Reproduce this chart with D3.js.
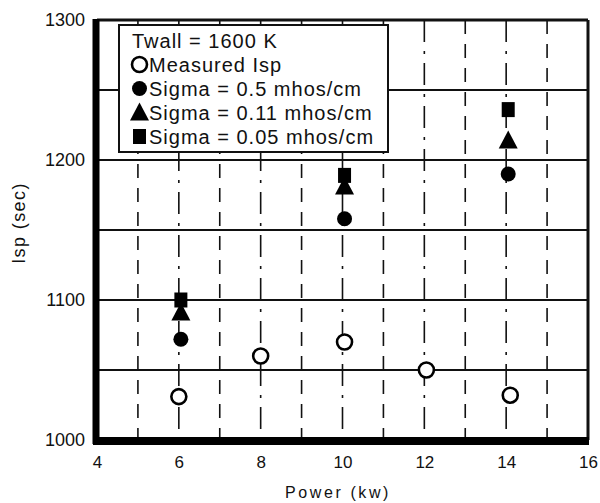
<!DOCTYPE html>
<html>
<head>
<meta charset="utf-8">
<script src="https://cdn.jsdelivr.net/npm/d3@7"></script>
<style>
  html, body { margin: 0; padding: 0; background: #fff; }
  svg { display: block; font-family: "Liberation Sans", Arial, sans-serif; }
</style>
</head>
<body>
<svg id="chart" width="600" height="503"></svg>
<script>
// Specific impulse vs. arcjet power
const measuredPower = [6, 8, 10.05, 12.05, 14.1];
const measuredIsp   = [1031, 1060, 1070, 1050, 1032];

const sigmaPower = [6.05, 10.05, 14.05];
const sigma05    = [1072, 1158, 1190];   // Sigma = 0.5 mhos/cm
const sigma011   = [1091, 1181, 1214];   // Sigma = 0.11 mhos/cm
const sigma005   = [1100, 1189, 1236];   // Sigma = 0.05 mhos/cm

const xTicks = [4, 6, 8, 10, 12, 14, 16];
const yTicks = [1000, 1100, 1200, 1300];
const yGrid  = [1050, 1100, 1150, 1200, 1250];
const xGrid  = [5, 6, 7, 8, 9, 10, 11, 12, 13, 14, 15];

const legendLines = [
  { label: "Twall = 1600 K", sym: null },
  { label: "Measured Isp", sym: "open" },
  { label: "Sigma = 0.5 mhos/cm", sym: "circle" },
  { label: "Sigma = 0.11 mhos/cm", sym: "triangle" },
  { label: "Sigma = 0.05 mhos/cm", sym: "square" }
];

const svg = d3.select("#chart");
const x = d3.scaleLinear().domain([4, 16]).range([97, 588]);
const y = d3.scaleLinear().domain([1000, 1300]).range([440, 20]);

// vertical dashed grid
svg.append("g").selectAll("line").data(xGrid).join("line")
  .attr("x1", d => x(d)).attr("x2", d => x(d))
  .attr("y1", y(1300)).attr("y2", y(1000))
  .attr("stroke", "#111").attr("stroke-width", 1.6)
  .attr("stroke-dasharray", (d, i) => i % 2 ? "22,9,3,9" : "14,10");

// horizontal solid grid
svg.append("g").selectAll("line").data(yGrid).join("line")
  .attr("x1", x(4)).attr("x2", x(16))
  .attr("y1", d => y(d)).attr("y2", d => y(d))
  .attr("stroke", "#111").attr("stroke-width", 2);

// frame: thin top/right, heavy left/bottom
svg.append("line").attr("x1", x(4)).attr("x2", x(16)).attr("y1", y(1300)).attr("y2", y(1300))
  .attr("stroke", "#111").attr("stroke-width", 3);
svg.append("line").attr("x1", x(16)).attr("x2", x(16)).attr("y1", y(1300)).attr("y2", y(1000))
  .attr("stroke", "#111").attr("stroke-width", 3);
svg.append("line").attr("x1", x(4) - 1).attr("x2", x(4) - 1).attr("y1", y(1300) - 1).attr("y2", y(1000) + 4)
  .attr("stroke", "#000").attr("stroke-width", 7);
svg.append("line").attr("x1", x(4) - 4).attr("x2", x(16) + 1).attr("y1", y(1000) + 1).attr("y2", y(1000) + 1)
  .attr("stroke", "#000").attr("stroke-width", 8);

// axes (labels only)
const yAxis = svg.append("g").attr("transform", `translate(${x(4)},0)`)
  .call(d3.axisLeft(y).tickValues(yTicks).tickSize(0).tickPadding(12).tickFormat(d3.format("d")));
const xAxis = svg.append("g").attr("transform", `translate(0,${y(1000)})`)
  .call(d3.axisBottom(x).tickValues(xTicks).tickSize(0).tickPadding(16).tickFormat(d3.format("d")));
[yAxis, xAxis].forEach(a => {
  a.select(".domain").remove();
  a.selectAll("text").attr("fill", "#111").style("font-size", "18px");
});
xAxis.selectAll("text").style("font-size", "17px");

// axis titles
svg.append("text").attr("x", 338).attr("y", 498).attr("text-anchor", "middle")
  .attr("fill", "#111").style("font-size", "16px").style("letter-spacing", "2.6px").text("Power (kw)");
svg.append("text").attr("transform", `translate(25,223) rotate(-90)`)
  .attr("text-anchor", "middle").attr("fill", "#111").style("font-size", "18px")
  .style("letter-spacing", "1.4px").text("Isp (sec)");

// marker drawing helpers
function marker(g, type, cx, cy) {
  if (type === "open") {
    g.append("circle").attr("cx", cx).attr("cy", cy).attr("r", 7.5)
      .attr("fill", "#fff").attr("stroke", "#000").attr("stroke-width", 2.6);
  } else if (type === "circle") {
    g.append("circle").attr("cx", cx).attr("cy", cy).attr("r", 7.5).attr("fill", "#000");
  } else if (type === "triangle") {
    g.append("path").attr("d", `M${cx},${cy - 10}L${cx + 9.5},${cy + 8}L${cx - 9.5},${cy + 8}Z`).attr("fill", "#000");
  } else if (type === "square") {
    g.append("rect").attr("x", cx - 6.5).attr("y", cy - 7.5).attr("width", 13).attr("height", 15).attr("fill", "#000");
  }
}

// legend box
const lg = svg.append("g");
lg.append("rect").attr("x", 119).attr("y", 25).attr("width", 269).attr("height", 127)
  .attr("fill", "#fff").attr("stroke", "#111").attr("stroke-width", 2);
legendLines.forEach((l, i) => {
  const by = 48 + i * 24;
  if (l.sym) marker(lg, l.sym, 139.5, by - 7.5);
  lg.append("text").attr("x", l.sym ? 149 : 132).attr("y", by)
    .attr("fill", "#111").style("font-size", "20px").style("letter-spacing", "1px").text(l.label);
});

// data points
const pts = svg.append("g");
sigmaPower.forEach((p, i) => {
  marker(pts, "circle", x(p), y(sigma05[i]));
  marker(pts, "triangle", x(p), y(sigma011[i]));
  marker(pts, "square", x(p), y(sigma005[i]));
});
measuredPower.forEach((p, i) => marker(pts, "open", x(p), y(measuredIsp[i])));
</script>
</body>
</html>
